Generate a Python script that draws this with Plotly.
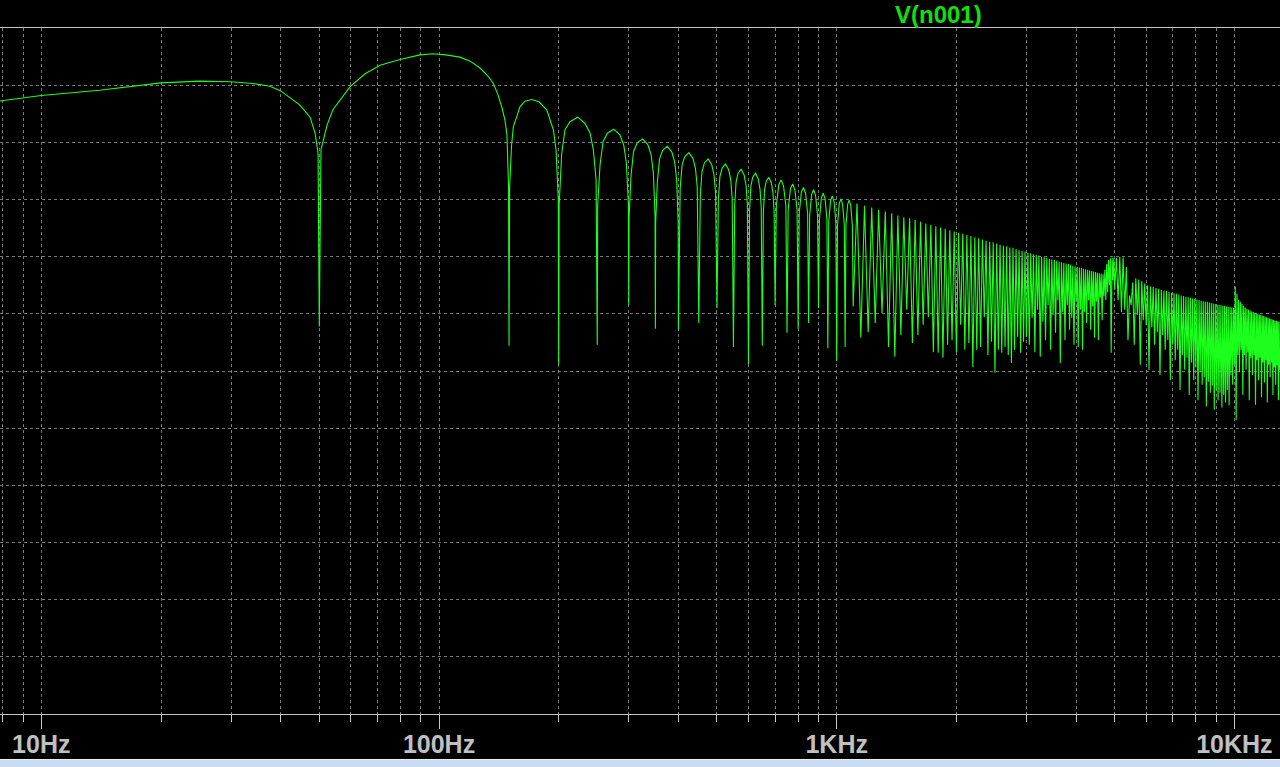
import plotly.graph_objects as go

# ---------------- data ----------------
# hand-traced resolved part of the spectrum: frequency (Hz) / level (dB)
low_hz = [7.8, 10, 14, 20, 25, 30, 34, 37.6, 40, 44.7, 47.4, 48.8, 49.65, 50, 50.5, 51.2, 52.3, 54.1,
          59.7, 65.2, 71.1, 79.8, 89.6, 96.6, 104.1, 112.9, 119.7, 126.8, 132.8, 137, 140.7, 143.8,
          146.5, 148.2, 149.6, 150,
          150.5, 152.2, 153.8, 159.8, 164.5, 171.1, 178.4, 186.6, 193.9, 196.9, 199.5, 200,
          200.5, 203.5, 207.4, 213.5, 223.3, 232.9, 239.8, 244.4, 248.3, 250,
          250.6, 254, 258.5, 265, 275, 285, 291.5, 296, 299.4, 300,
          300.6, 304, 308.5, 315, 325, 335, 341.5, 346, 349.4, 350,
          350.6, 354, 358.5, 365, 375, 385, 391.5, 396, 399.4, 400,
          404, 408.5, 415, 425, 435, 441.5, 446, 450,
          454, 458.5, 465, 475, 485, 491.5, 496, 500,
          504, 508.5, 515, 525, 535, 541.5, 546, 550,
          554, 558.5, 565, 575, 585, 591.5, 596, 600,
          604, 608.5, 615, 625, 635, 641.5, 646, 650,
          654, 658.5, 665, 675, 685, 691.5, 696, 700,
          705, 715, 725, 735, 745, 750,
          755, 765, 775, 785, 795, 800,
          805, 815, 825, 835, 845, 850,
          855, 865, 875, 885, 895, 900,
          905, 915, 925, 935, 945, 950,
          955, 965, 975, 985, 995, 1000,
          1005, 1015, 1025, 1035, 1045, 1050,
          1055, 1065, 1075, 1085, 1095, 1100]
low_db = [-12.8, -11.8, -10.9, -9.6, -9.3, -9.4, -9.7, -10.2, -11.0, -13.5, -15.6, -18.4, -21.9, -52.2,
          -21.3, -19.8, -17.0, -14.3, -10.3, -8.0, -6.5, -5.5, -4.7, -4.5, -4.7, -5.1, -5.8, -7.0, -8.4,
          -9.7, -11.7, -13.8, -16.1, -18.7, -28.0, -55.6,
          -28.0, -20.5, -17.3, -13.8, -12.8, -12.5, -12.9, -14.3, -17.8, -21.3, -30.0, -58.9,
          -31.0, -21.9, -17.8, -16.4, -15.6, -16.7, -18.4, -21.3, -26.6, -55.4,
          -31.0, -24.0, -19.9, -18.4, -17.7, -18.7, -20.5, -23.7, -31.0, -48.5,
          -33.0, -25.7, -21.6, -20.1, -19.4, -20.4, -22.2, -25.4, -33.0, -52.6,
          -34.0, -27.0, -22.9, -21.4, -20.7, -21.7, -23.5, -26.7, -34.0, -52.8,
          -28.1, -24.0, -22.5, -21.8, -22.8, -24.6, -27.8, -51.6,
          -29.2, -25.1, -23.6, -22.9, -23.9, -25.7, -28.9, -49.0,
          -30.1, -26.0, -24.5, -23.8, -24.8, -26.6, -29.8, -55.8,
          -31.0, -26.9, -25.4, -24.7, -25.7, -27.5, -30.7, -58.8,
          -31.7, -27.6, -26.1, -25.4, -26.4, -28.2, -31.4, -55.6,
          -32.4, -28.3, -26.8, -26.1, -27.1, -28.9, -32.1, -48.5,
          -31.1, -27.4, -26.6, -27.6, -31.1, -53.3,
          -31.8, -28.1, -27.3, -28.3, -31.8, -52.6,
          -32.4, -28.7, -27.9, -28.9, -32.4, -51.6,
          -32.8, -29.1, -28.3, -29.3, -32.8, -49.0,
          -33.4, -29.7, -28.9, -29.9, -33.4, -56.0,
          -33.9, -30.2, -29.4, -30.4, -33.9, -58.2,
          -34.4, -30.7, -29.9, -30.9, -34.4, -55.8,
          -34.6, -30.9, -30.1, -31.1, -34.6, -48.7]

# dense part: notch frequencies, arc-top level before each notch, notch depth
dense_notch_hz = [
    1150, 1200, 1250, 1300, 1350, 1400, 1450, 1500, 1550, 1600, 1650, 1700, 1750, 1800, 1850, 1900, 1950, 2000,
    2050, 2100, 2150, 2200, 2250, 2300, 2350, 2400, 2450, 2500, 2550, 2600, 2650, 2700, 2750, 2800, 2850, 2900,
    2950, 3000,
    3050, 3100, 3150, 3200, 3250, 3300, 3350, 3400, 3450, 3500, 3550, 3600, 3650, 3700, 3750, 3800, 3850, 3900,
    3950, 4000, 4050, 4100, 4150, 4200, 4250, 4300, 4350, 4400, 4450, 4500, 4550, 4600, 4650, 4700, 4750, 4800,
    4850, 4900, 4950, 5000,
    5100, 5200, 5300, 5400, 5500, 5600, 5700, 5800, 5900, 6000,
    6100, 6200, 6300, 6400, 6500, 6600, 6700, 6800, 6900, 7000,
    7100, 7200, 7300, 7400, 7500, 7600, 7700, 7800, 7900, 8000,
    8100, 8200, 8300, 8400, 8500, 8600, 8700, 8800, 8900, 9000,
    9100, 9200, 9300, 9400, 9500, 9600, 9700, 9800, 9900, 10000,
    10100, 10200, 10300, 10400, 10500, 10600, 10700, 10800, 10900, 11000,
    11100, 11200, 11300, 11400, 11500, 11600, 11700, 11800, 11900, 12000,
    12100, 12200, 12300, 12400, 12500, 12600, 12700, 12800, 12900, 13000]
dense_peak_db = [
    -30.7, -31.1, -31.4, -31.8, -32.1, -32.4, -32.8, -33.1, -33.3, -33.6, -33.9, -34.2, -34.4, -34.7, -34.9,
    -35.1, -35.4, -35.6,
    -35.8, -36.0, -36.2, -36.4, -36.6, -36.8, -37.0, -37.2, -37.4, -37.5, -37.7, -37.9, -38.1, -38.2, -38.4,
    -38.5, -38.7, -38.9, -39.0, -39.1,
    -39.3, -39.4, -39.6, -39.7, -39.8, -40.0, -40.1, -40.2, -40.4, -40.5, -40.6, -40.7, -40.9, -41.0, -41.1,
    -41.2, -41.3, -41.4, -41.6, -41.7, -41.8, -41.9, -42.0, -42.1, -42.2, -42.3, -42.4, -42.5, -42.6, -42.7,
    -42.8, -42.9, -43.0, -43.1, -42.3, -41.3, -40.6, -40.3, -40.2, -40.3,
    -40.2, -40.0, -40.1, -41.8, -46.8, -44.5, -43.8, -44.0, -44.3, -44.7,
    -45.0, -45.2, -45.3, -45.5, -45.6, -45.8, -45.9, -46.0, -46.2, -46.3,
    -46.4, -46.5, -46.6, -46.8, -46.9, -47.0, -47.1, -47.2, -47.3, -47.4,
    -47.5, -47.6, -47.7, -47.8, -47.9, -47.9, -48.0, -48.1, -48.2, -48.3,
    -48.4, -48.4, -48.5, -48.6, -48.6, -48.7, -48.8, -48.8, -48.9, -49.0,
    -45.2, -46.5, -47.6, -47.9, -48.3, -48.6, -48.9, -49.1, -49.3, -49.4,
    -49.6, -49.7, -49.8, -49.9, -50.0, -50.1, -50.2, -50.3, -50.4, -50.5,
    -50.6, -50.7, -50.8, -50.9, -51.0, -51.1, -51.2, -51.2, -51.3, -51.4]
dense_dip_db = [
    -54.2, -53.2, -51.6, -49.9, -55.8, -57.5, -53.7, -49.3, -55.1, -53.7, -51.9, -50.6, -56.7, -56.8, -57.7,
    -55.4, -54.6, -56.7,
    -51.9, -56.3, -55.1, -59.3, -56.3, -55.8, -50.6, -57.2, -54.9, -60.3, -56.3, -56.8, -55.8, -57.2, -58.6,
    -56.3, -54.0, -56.8, -54.9, -54.0,
    -55.4, -50.7, -56.7, -49.3, -57.5, -51.4, -54.6, -48.5, -56.3, -50.2, -53.3, -47.6, -58.6, -49.7, -54.6,
    -48.5, -52.8, -50.7, -55.4, -47.9, -55.8, -49.3, -56.3, -49.7, -51.6, -47.6, -52.8, -48.7, -54.2, -47.9,
    -54.6, -47.2, -51.1, -46.9, -47.6, -46.2, -45.0, -56.8, -44.1, -45.8,
    -47.6, -49.7, -49.3, -54.6, -48.5, -55.4, -50.2, -58.9, -51.1, -52.0,
    -59.8, -52.4, -55.4, -53.2, -60.7, -53.7, -56.3, -54.6, -61.6, -55.4,
    -58.1, -56.3, -63.3, -57.2, -59.8, -57.7, -64.2, -58.5, -61.6, -59.4,
    -65.1, -60.2, -62.4, -61.1, -66.2, -61.9, -63.8, -62.6, -66.8, -63.3,
    -65.1, -63.8, -66.4, -64.2, -65.5, -63.3, -66.0, -60.7, -62.4, -58.9,
    -68.6, -57.2, -60.2, -56.3, -64.2, -57.2, -59.8, -56.7, -65.1, -57.7,
    -60.7, -57.2, -65.9, -58.1, -61.6, -57.7, -64.6, -58.5, -62.0, -58.1,
    -65.5, -58.9, -61.1, -58.5, -64.2, -59.4, -62.4, -59.0, -65.1, -59.8]

tick_hz = [10, 100, 1000, 10000]
tick_text = ["10Hz", "100Hz", "1KHz", "10KHz"]
minor_hz = [8, 9, 20, 30, 40, 50, 60, 70, 80, 90, 200, 300, 400, 500, 600, 700, 800, 900,
            2000, 3000, 4000, 5000, 6000, 7000, 8000, 9000]
trace_name = "V(n001)"

assert len(low_hz) == len(low_db)
assert len(dense_notch_hz) == len(dense_peak_db) == len(dense_dip_db)

# ---------------- assemble trace ----------------
xs = list(low_hz)
ys = list(low_db)
prev = low_hz[-1]
for f, p, d in zip(dense_notch_hz, dense_peak_db, dense_dip_db):
    xs.append((prev * f) ** 0.5)   # arc top sits between two neighbouring notches
    ys.append(p)
    xs.append(f)
    ys.append(d)
    prev = f

GREEN = "#1cff1c"
GRID = "#7a7a7a"
AXIS = "#c8c8c8"
FONT = "Liberation Sans, Arial, sans-serif"

fig = go.Figure()
fig.add_trace(go.Scatter(x=xs, y=ys, mode="lines", name=trace_name,
                         line=dict(color=GREEN, width=1.1), hoverinfo="skip"))

fig.update_layout(
    width=1280, height=767,
    margin=dict(l=0, r=0, t=28, b=53),
    paper_bgcolor="black", plot_bgcolor="black",
    showlegend=False,
    annotations=[dict(text=trace_name, xref="paper", yref="paper", x=938 / 1280, y=1.0,
                      yshift=14, xanchor="center", yanchor="middle", showarrow=False,
                      borderpad=0,
                      font=dict(family=FONT, size=24, color="#10e010", weight="bold"))],
    shapes=[
        dict(type="rect", xref="paper", yref="paper", x0=0, x1=1, y0=-0.0773, y1=-0.0663,
             fillcolor="#c9dcf2", line=dict(width=0), layer="above"),
        dict(type="line", xref="paper", yref="paper", x0=0, x1=1, y0=-0.0663, y1=-0.0663,
             line=dict(color="#eef2f8", width=1), layer="above"),
    ],
)

fig.update_xaxes(
    type="log", range=[0.89615, 4.11466],
    tickmode="array", tickvals=tick_hz, ticktext=tick_text,
    ticks="outside", ticklen=14, tickwidth=1, tickcolor=AXIS,
    ticklabelstandoff=-6,
    tickfont=dict(family=FONT, size=25, color="#c0c0c0", weight="bold"),
    showline=True, linecolor=AXIS, linewidth=1, mirror=True,
    showgrid=True, gridcolor=GRID, gridwidth=1, griddash="3px,3px",
    minor=dict(tickmode="array", tickvals=minor_hz, ticks="outside", ticklen=7,
               tickwidth=1, tickcolor=AXIS, showgrid=True, gridcolor=GRID,
               gridwidth=1, griddash="3px,3px"),
    zeroline=False,
)
fig.update_yaxes(
    range=[-120, 0], tick0=0, dtick=10, showticklabels=False, ticks="",
    showgrid=True, gridcolor=GRID, gridwidth=1, griddash="3px,3px",
    zeroline=False, showline=False,
)

fig.write_html("out.html", config={"displayModeBar": False},
               post_script="document.body.style.margin='0';document.body.style.overflow='hidden';")
